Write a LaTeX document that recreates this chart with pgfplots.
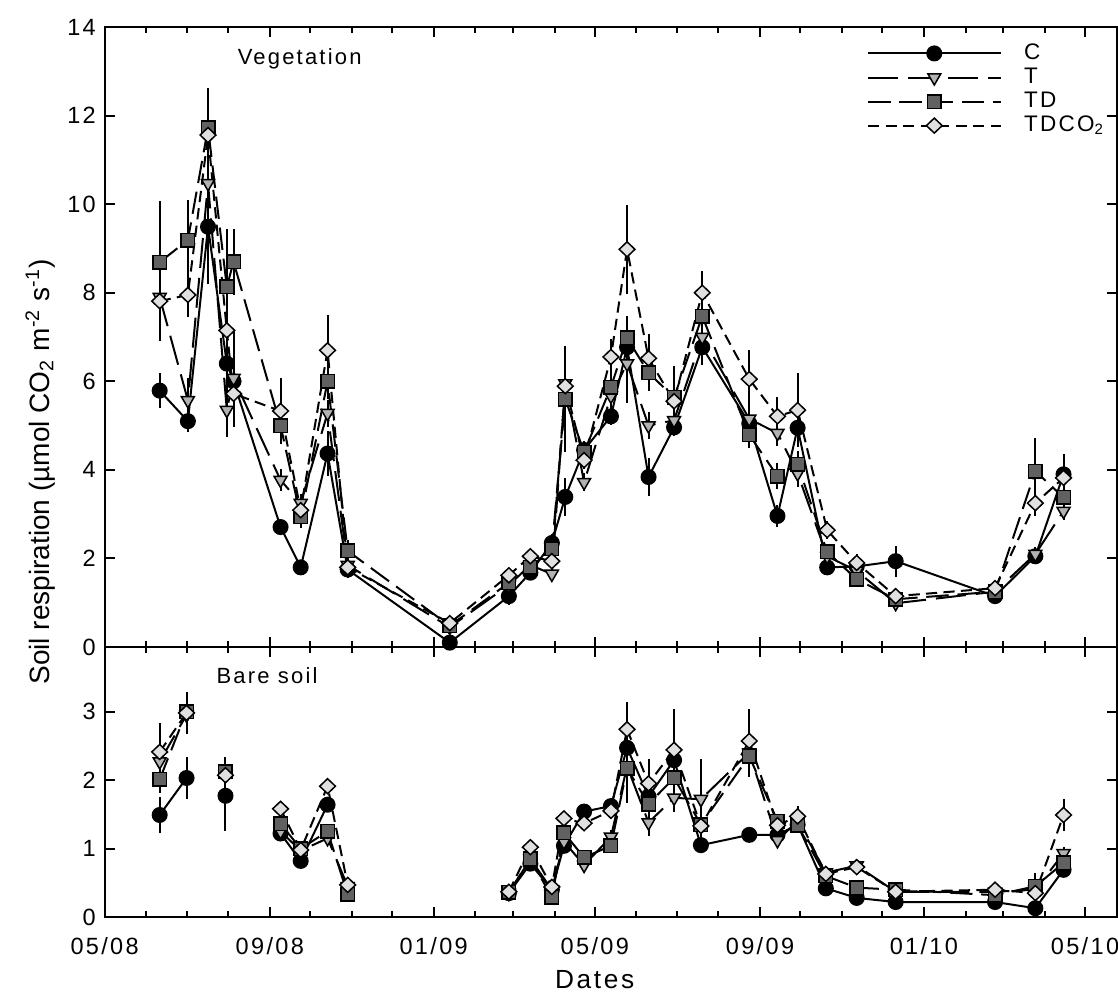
\documentclass[border=0pt]{standalone}
\usepackage{fontspec}
\setmainfont{Liberation Sans}
\newfontfamily\spaced[LetterSpace=10]{Liberation Sans}
\usepackage{pgfplots}
\pgfplotsset{compat=1.18}
\usepackage{pgfplotstable}
\usetikzlibrary{calc}

\definecolor{tgray}{gray}{0.70}
\definecolor{tdgray}{gray}{0.38}
\definecolor{dgray}{gray}{0.88}

% x = days since 1 May 2008
\pgfplotstableread{
x   C    eC   T     eT   TD    eTD  TDC   eTDC
41  5.79 0.40 7.90  0.30 8.69  1.38 7.81  0.90
62  5.10 0.25 5.57  0.50 9.19  0.90 7.95  0.50
77  9.49 1.30 10.47 0.50 11.72 0.90 11.56 0.60
91  6.40 0.50 5.35  0.60 8.13  1.30 7.15  0.40
96  6.00 0.40 6.07  1.10 8.70  0.75 5.72  0.40
131 2.71 0.10 3.77  0.25 5.00  0.40 5.33  0.75
146 1.80 0.10 3.25  0.20 2.94  0.25 3.09  0.20
166 4.37 0.50 5.28  0.30 6.00  0.40 6.70  0.80
181 1.75 0.20 1.85  0.30 2.17  0.25 1.80  0.10
257 0.10 0.05 0.45  0.10 0.48  0.10 0.54  0.10
301 1.15 0.20 1.40  0.15 1.45  0.15 1.62  0.15
317 1.68 0.15 1.85  0.15 1.80  0.15 2.05  0.15
333 2.35 0.20 1.65  0.10 2.22  0.20 1.94  0.15
343 3.39 0.42 5.95  0.20 5.60  1.20 5.89  0.30
357 4.45 0.20 3.72  0.20 4.40  0.20 4.22  0.20
377 5.21 0.20 5.67  0.30 5.87  0.30 6.55  0.40
389 6.77 0.30 6.40  0.90 6.98  0.50 8.98  1.00
405 3.84 0.42 5.00  0.30 6.19  0.40 6.52  0.55
424 4.96 0.20 5.12  0.30 5.64  0.70 5.55  0.30
445 6.77 0.40 7.00  0.40 7.47  0.50 8.00  0.50
480 5.05 0.40 5.15  0.30 4.79  0.30 6.05  0.65
501 2.96 0.25 4.83  0.30 3.86  0.30 5.21  0.43
516 4.95 0.30 3.92  0.30 4.13  0.30 5.35  0.83
538 1.80 0.10 2.05  0.10 2.15  0.15 2.64  0.20
560 1.82 0.10 1.72  0.15 1.53  0.15 1.90  0.20
589 1.94 0.35 0.99  0.10 1.08  0.10 1.15  0.10
663 1.15 0.10 1.25  0.10 1.25  0.10 1.33  0.10
693 2.05 0.15 2.10  0.15 3.97  0.75 3.25  0.30
714 3.90 0.30 3.07  0.20 3.38  0.30 3.82  0.55
}\vegdata

\pgfplotstableread{
x   C    eC   T    eT   TD   eTD  TDC  eTDC
41  1.49 0.26 2.27 0.20 2.01 0.20 2.41 0.42
61  2.03 0.30 2.95 0.25 3.00 0.25 2.98 0.31
75  nan  0    nan  0    nan  0    nan  0
90  1.77 0.52 2.08 0.20 2.12 0.22 2.07 0.27
110 nan  0    nan  0    nan  0    nan  0
131 1.22 0.10 1.25 0.10 1.36 0.10 1.58 0.10
146 0.82 0.05 0.97 0.05 1.00 0.05 0.98 0.05
166 1.64 0.10 1.15 0.10 1.25 0.10 1.91 0.10
181 nan  0    0.45 0.05 0.33 0.05 0.47 0.05
240 nan  0    nan  0    nan  0    nan  0
301 0.35 0.05 0.35 0.05 0.36 0.05 0.37 0.05
317 0.78 0.10 0.85 0.10 0.85 0.10 1.02 0.08
333 0.40 0.10 0.40 0.05 0.29 0.05 0.44 0.05
342 1.04 0.10 1.10 0.10 1.23 0.10 1.44 0.10
357 1.54 0.10 0.76 0.10 0.87 0.10 1.37 0.10
377 1.62 0.10 1.17 0.10 1.04 0.05 1.55 0.10
389 2.47 0.40 2.20 0.40 2.17 0.50 2.74 0.40
405 1.76 0.20 1.38 0.20 1.65 0.20 1.95 0.35
424 2.29 0.20 1.74 0.20 2.03 0.20 2.44 0.60
444 1.05 0.05 1.72 0.58 1.35 0.10 1.33 0.10
480 1.20 0.05 2.40 0.30 2.35 0.30 2.57 0.47
501 1.20 0.10 1.12 0.10 1.40 0.10 1.34 0.10
516 1.35 0.10 1.40 0.10 1.34 0.10 1.47 0.15
537 0.42 0.05 0.65 0.10 0.60 0.05 0.63 0.05
560 0.28 0.05 0.75 0.05 0.43 0.05 0.73 0.05
589 0.22 0.03 0.37 0.03 0.40 0.03 0.37 0.03
663 0.22 0.03 0.37 0.03 0.32 0.03 0.40 0.03
693 0.13 0.05 0.40 0.05 0.45 0.20 0.35 0.05
714 0.69 0.10 0.93 0.10 0.79 0.10 1.49 0.23
}\soildata

\pgfplotsset{
  panel/.style={
    scale only axis, width=405pt, clip=false,
    xmin=0, xmax=754,
    xtick={0,123,245,365,488,610,730},
    minor xtick={31,61,92,153,184,214,276,304,335,396,426,457,518,549,579,641,669,700},
    tick align=inside, major tick length=4pt, minor tick length=2.4pt,
    axis line style={line width=0.8pt},
    every tick/.append style={black, line width=0.8pt},
    tick label style={font=\spaced\fontsize{9.4}{11}\selectfont},
    /pgf/number format/assume math mode=true,
    unbounded coords=jump,
  },
  ebar/.style={error bars/.cd, y dir=both, y explicit, error mark=none,
    error bar style={line width=0.8pt, solid}},
  cser/.style={black, line width=0.8pt, solid, mark=*, mark size=2.8pt,
    mark options={solid, fill=black}, ebar},
  tser/.style={black, line width=0.8pt, dash pattern=on 12pt off 4pt,
    mark=triangle*, mark size=3pt,
    mark options={solid, rotate=180, fill=tgray, draw=black, line width=0.6pt}, ebar},
  tdser/.style={black, line width=0.8pt, dash pattern=on 9pt off 3.5pt,
    mark=square*, mark size=2.7pt,
    mark options={solid, fill=tdgray, draw=black, line width=0.6pt}, ebar},
  tdcser/.style={black, line width=0.8pt, dash pattern=on 4.5pt off 2.5pt,
    mark=diamond*, mark size=3pt,
    mark options={solid, xscale=1.4, fill=dgray, draw=black, line width=0.6pt}, ebar},
}

\begin{document}
\begin{tikzpicture}
\begin{axis}[panel, name=vegax, at={(0,108pt)}, anchor=south west,
  height=248pt, ymin=0, ymax=14, ytick={0,2,...,14},
  xticklabels={},
  legend style={at={(0.745,0.99)}, anchor=north west, draw=none, fill=none,
    font=\spaced\fontsize{9}{10.5}\selectfont, row sep=-2.1pt,
    /tikz/every odd column/.append style={column sep=7pt}},
  legend cell align=left,
  legend image code/.code={\draw[mark repeat=2,mark phase=2]
    plot coordinates {(0pt,0pt)(26.5pt,0pt)(53pt,0pt)};},
]
\addplot[cser]   table[x=x, y=C,   y error=eC]   {\vegdata};
\addlegendentry{C}
\addplot[tser]   table[x=x, y=T,   y error=eT]   {\vegdata};
\addlegendentry{T}
\addplot[tdser]  table[x=x, y=TD,  y error=eTD]  {\vegdata};
\addlegendentry{TD}
\addplot[tdcser] table[x=x, y=TDC, y error=eTDC] {\vegdata};
\addlegendentry{TDCO\textsubscript{2}}
\node[anchor=west, inner sep=0pt, font=\spaced\fontsize{8.8}{10.5}\selectfont] at (rel axis cs:0.131,0.948) {Vegetation};
\end{axis}

\begin{axis}[panel, name=soilax, at={(0,0)}, anchor=south west,
  height=108pt, ymin=0, ymax=3.94, ytick={0,1,2,3},
  xticklabels={05/08,09/08,01/09,05/09,09/09,01/10,05/10},
  xticklabel style={yshift=-4.5pt},
  xlabel={Dates},
  xlabel style={font=\spaced\fontsize{10.5}{12}\selectfont, at={(rel axis cs:0.484,0)}, anchor=center, yshift=-25pt},
]
\addplot[cser]   table[x=x, y=C,   y error=eC]   {\soildata};
\addplot[tser]   table[x=x, y=T,   y error=eT]   {\soildata};
\addplot[tdser]  table[x=x, y=TD,  y error=eTD]  {\soildata};
\addplot[tdcser] table[x=x, y=TDC, y error=eTDC] {\soildata};
\node[anchor=west, inner sep=0pt, font=\spaced\fontsize{8.8}{10.5}\selectfont] at (rel axis cs:0.11,0.896) {Bare soil};
\end{axis}

\node[rotate=90, font=\fontsize{11.2}{12}\selectfont] at ($(vegax.north west)!0.5!(soilax.south west)+(-25.8pt,0)$)
  {Soil respiration (µmol CO\textsubscript{2} m\textsuperscript{-2} s\textsuperscript{-1})};
\pgfresetboundingbox
\useasboundingbox ($(soilax.south west)+(-41.84pt,-31.2pt)$) rectangle ($(vegax.north east)+(0.3pt,10.8pt)$);
\end{tikzpicture}
\end{document}
